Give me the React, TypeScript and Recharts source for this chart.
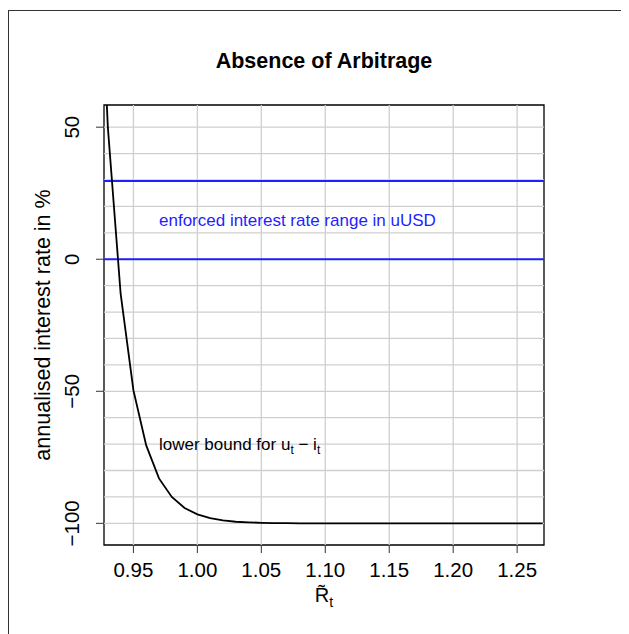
import {
  LineChart,
  Line,
  XAxis,
  YAxis,
  ReferenceLine,
  ReferenceArea,
  ReferenceDot,
} from "recharts";

// gross return R~_t
const R_VALUES = [
  0.92, 0.93, 0.94, 0.95, 0.96, 0.97, 0.98, 0.99, 1.0, 1.01, 1.02, 1.03,
  1.04, 1.05, 1.06, 1.07, 1.08, 1.09, 1.1, 1.11, 1.12, 1.13, 1.14, 1.15,
  1.16, 1.17, 1.18, 1.19, 1.2, 1.21, 1.22, 1.23, 1.24, 1.25, 1.26, 1.27,
];

// lower bound for u_t - i_t, annualised in %
const LOWER_BOUND = [
  158, 50, -13, -49.6, -70.5, -83, -90, -94.2, -96.6, -98, -98.9, -99.4,
  -99.6, -99.8, -99.9, -99.95, -100, -100, -100, -100, -100, -100, -100, -100,
  -100, -100, -100, -100, -100, -100, -100, -100, -100, -100, -100, -100,
];

// enforced range in uUSD
const RANGE_LOW = 0;
const RANGE_HIGH = 29.6;

const X_TICKS = [0.95, 1.0, 1.05, 1.1, 1.15, 1.2, 1.25];
const Y_TICKS = [-100, -50, 0, 50];
const Y_GRID = [-100, -90, -80, -70, -60, -50, -40, -30, -20, -10, 0, 10, 20, 30, 40, 50];

const X_DOMAIN = [0.927, 1.271];
const Y_DOMAIN = [-108.2, 58.4];

const FONT = "'Liberation Sans', Arial, Helvetica, sans-serif";
const GRID = "#cfcfcf";
const BLUE = "#1f1fff";

const data = R_VALUES.map((r, i) => ({ r, rate: LOWER_BOUND[i] }));

const fmtY = (v: number) => (v < 0 ? "\u2212" + Math.abs(v) : String(v));

function YTick(props: any) {
  const { x, y, payload } = props;
  const cx = x - 22;
  return (
    <text
      x={cx}
      y={y}
      transform={`rotate(-90, ${cx}, ${y})`}
      textAnchor="middle"
      dominantBaseline="central"
      fontSize={20.5}
      fontFamily={FONT}
      fill="#000"
    >
      {fmtY(payload.value)}
    </text>
  );
}

function XTick(props: any) {
  const { x, y, payload } = props;
  return (
    <text x={x} y={y + 22} textAnchor="middle" fontSize={20.5} fontFamily={FONT} fill="#000">
      {payload.value.toFixed(2)}
    </text>
  );
}

const blueLabel = (props: any) => {
  const vb = props.viewBox;
  const cx = vb.x + vb.width / 2;
  const cy = vb.y + vb.height / 2;
  return (
    <text x={cx} y={cy + 6} fontSize={17} fontFamily={FONT} fill={BLUE}>
      enforced interest rate range in uUSD
    </text>
  );
};

const boundLabel = (props: any) => {
  const vb = props.viewBox;
  const cx = vb.x + vb.width / 2;
  const cy = vb.y + vb.height / 2;
  return (
    <text x={cx} y={cy + 6} fontSize={17} fontFamily={FONT} fill="#000">
      lower bound for u
      <tspan dy={4} fontSize={12}>t</tspan>
      <tspan dy={-4}> {"\u2212"} i</tspan>
      <tspan dy={4} fontSize={12}>t</tspan>
    </text>
  );
};

export default function App() {
  return (
    <div style={{ position: "relative", width: 621, height: 626 }}>
      <div
        style={{
          position: "absolute",
          left: 0,
          top: 2,
          width: 621,
          height: 624,
          borderTop: "1px solid #333",
          borderLeft: "1px solid #333",
          boxSizing: "border-box",
        }}
      />
      <LineChart
        width={621}
        height={626}
        data={data}
        margin={{ top: 97, right: 85, bottom: 29, left: 36 }}
        style={{ position: "absolute", left: 0, top: 0 }}
      >
        <XAxis
          dataKey="r"
          type="number"
          domain={X_DOMAIN}
          ticks={X_TICKS}
          allowDataOverflow
          height={60}
          axisLine={false}
          tickLine={{ stroke: "#333" }}
          tickSize={8}
          tick={<XTick />}
          interval={0}
        />
        <YAxis
          type="number"
          domain={Y_DOMAIN}
          ticks={Y_TICKS}
          allowDataOverflow
          width={60}
          axisLine={false}
          tickLine={{ stroke: "#333" }}
          tickSize={8}
          tick={<YTick />}
          interval={0}
        />
        {Y_GRID.map((v) => (
          <ReferenceLine key={"gy" + v} y={v} stroke={GRID} strokeWidth={1.3} />
        ))}
        {X_TICKS.map((v) => (
          <ReferenceLine key={"gx" + v} x={v} stroke={GRID} strokeWidth={1.3} />
        ))}
        <ReferenceLine y={RANGE_HIGH} stroke={BLUE} strokeWidth={2} />
        <ReferenceLine y={RANGE_LOW} stroke={BLUE} strokeWidth={2} />
        <Line
          dataKey="rate"
          type="linear"
          stroke="#000"
          strokeWidth={1.8}
          dot={false}
          isAnimationActive={false}
        />
        <ReferenceArea
          x1={X_DOMAIN[0]}
          x2={X_DOMAIN[1]}
          y1={Y_DOMAIN[0]}
          y2={Y_DOMAIN[1]}
          fill="none"
          stroke="#000"
          strokeWidth={1.3}
        />
        <ReferenceDot x={0.97} y={15} r={1} fill="none" stroke="none" label={blueLabel} />
        <ReferenceDot x={0.97} y={-70} r={1} fill="none" stroke="none" label={boundLabel} />
        <text x={316} y={60} textAnchor="middle" fontSize={21.5} fontWeight="bold" fontFamily={FONT}>
          Absence of Arbitrage
        </text>
        <text x={316} y={594} textAnchor="middle" fontSize={20} fontFamily={FONT}>
          {"R\u0303"}
          <tspan dy={5} fontSize={14}>t</tspan>
        </text>
        <text
          transform="translate(42, 317) rotate(-90)"
          x={0}
          y={0}
          textAnchor="middle"
          fontSize={21.5}
          fontFamily={FONT}
        >
          annualised interest rate in %
        </text>
      </LineChart>
    </div>
  );
}
